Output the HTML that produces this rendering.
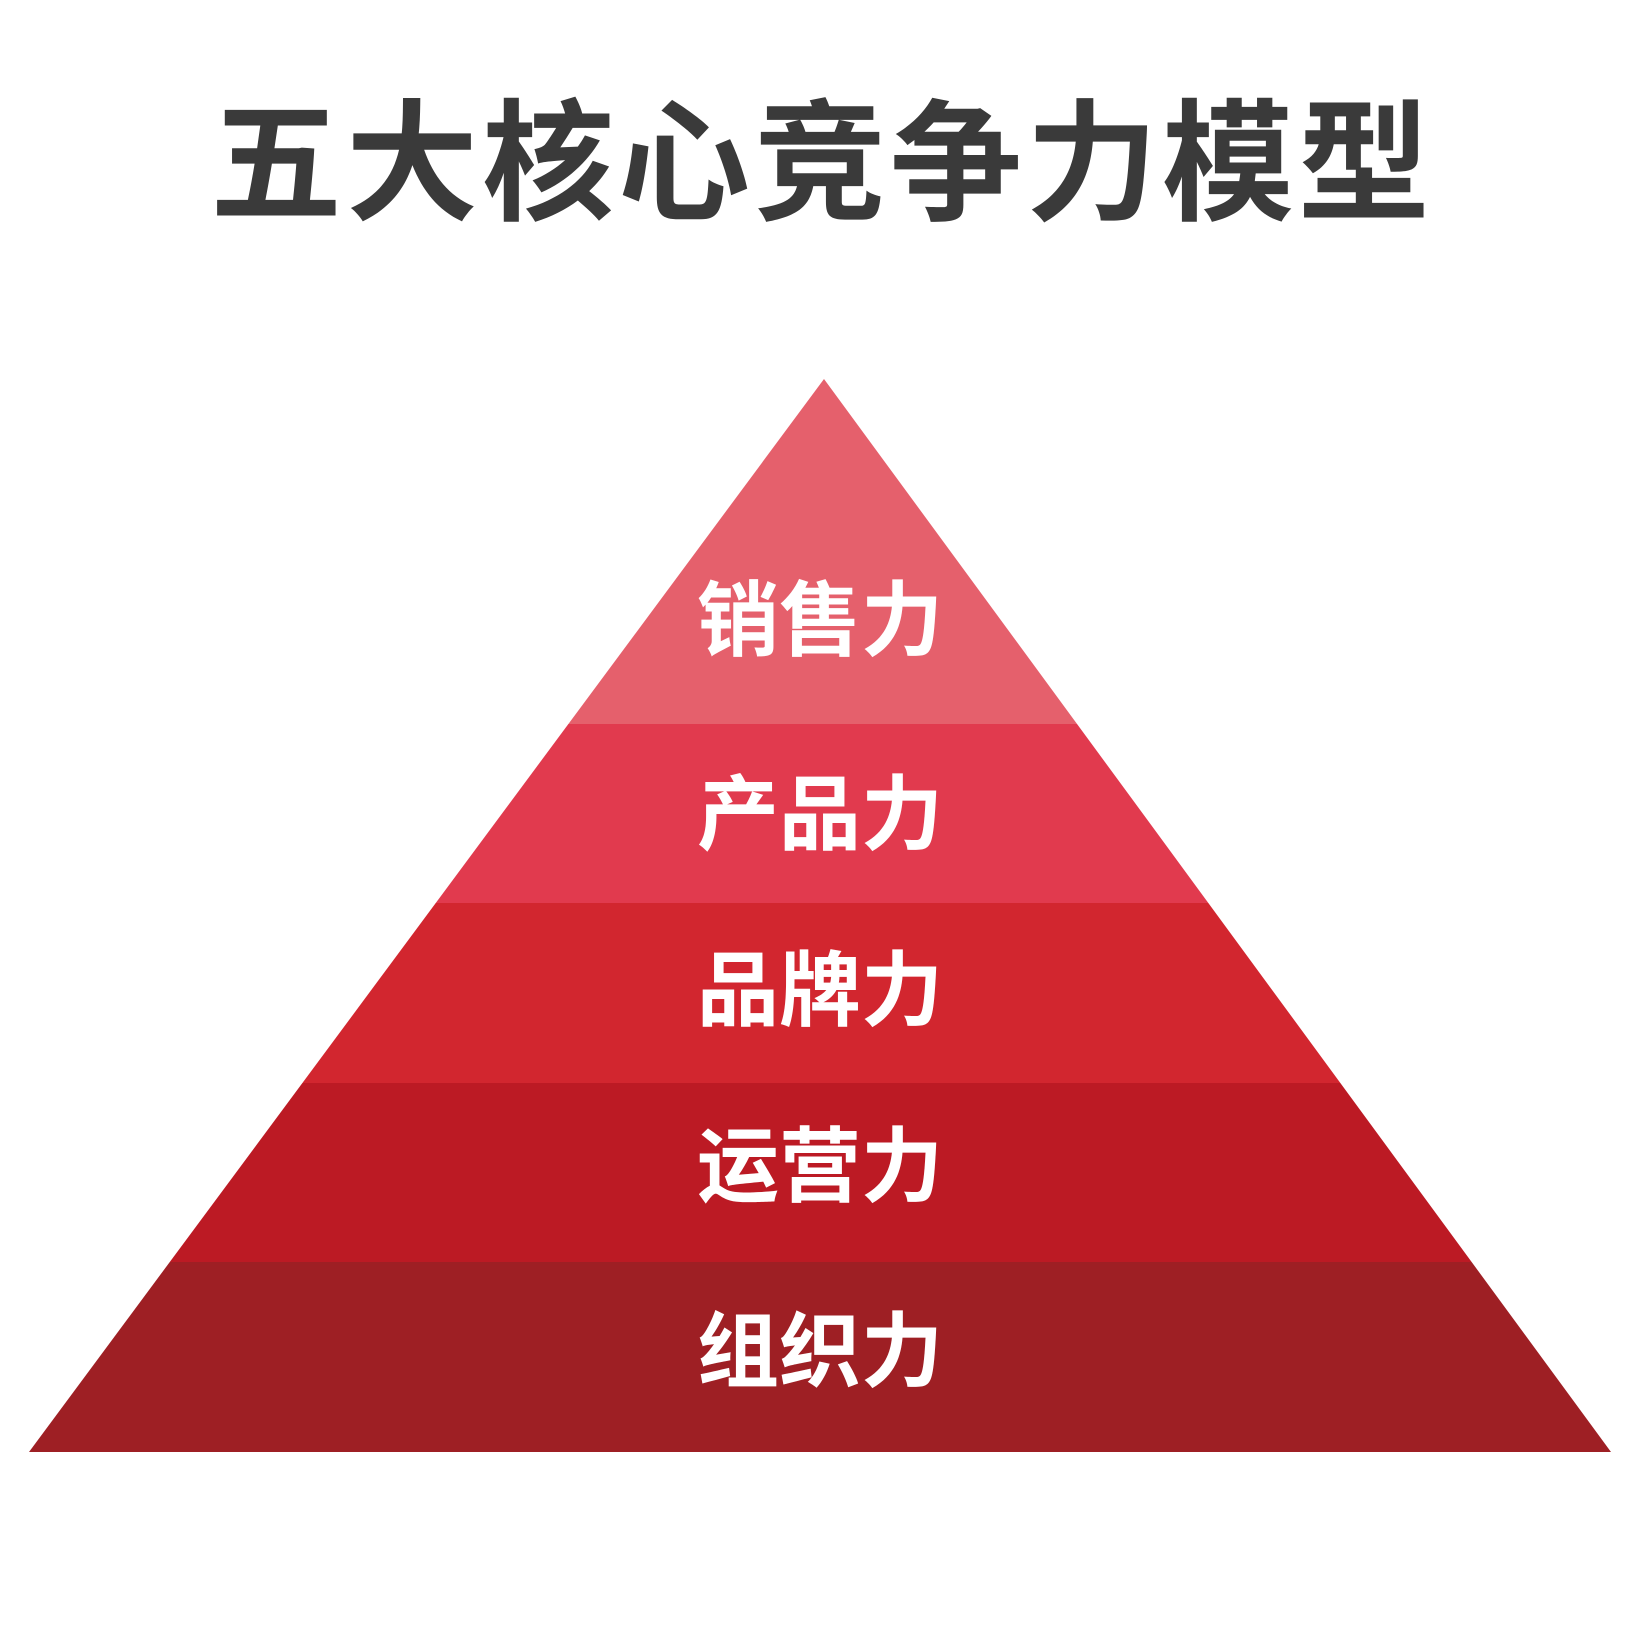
<!DOCTYPE html>
<html><head><meta charset="utf-8"><style>
html,body{margin:0;padding:0;background:#fff;}
body{width:1638px;height:1638px;position:relative;overflow:hidden;}
</style></head><body>
<svg width="1638" height="1638" style="position:absolute;left:0;top:0">
<defs><clipPath id="c"><polygon points="824,379 1611,1452 29,1452"/></clipPath></defs>
<g clip-path="url(#c)">
<rect x="0" y="370" width="1638" height="354" fill="#e5606c"/>
<rect x="0" y="724" width="1638" height="179" fill="#e13a4e"/>
<rect x="0" y="903" width="1638" height="180" fill="#d2262f"/>
<rect x="0" y="1083" width="1638" height="179" fill="#bc1a24"/>
<rect x="0" y="1262" width="1638" height="192" fill="#9e1f24"/>
</g>
<g font-family="Liberation Sans, Noto Sans CJK SC, sans-serif" font-size="82" font-weight="700" fill="#fff" text-anchor="middle">
<text x="820" y="649">销售力</text>
<text x="820" y="843">产品力</text>
<text x="820" y="1019">品牌力</text>
<text x="820" y="1195">运营力</text>
<text x="820" y="1380">组织力</text>
</g>
<text x="822" y="210" text-anchor="middle" font-family="Liberation Sans, Noto Sans CJK SC, sans-serif" font-size="132" font-weight="700" fill="#3a3a3a" letter-spacing="4">五大核心竞争力模型</text>
</svg>
</body></html>
